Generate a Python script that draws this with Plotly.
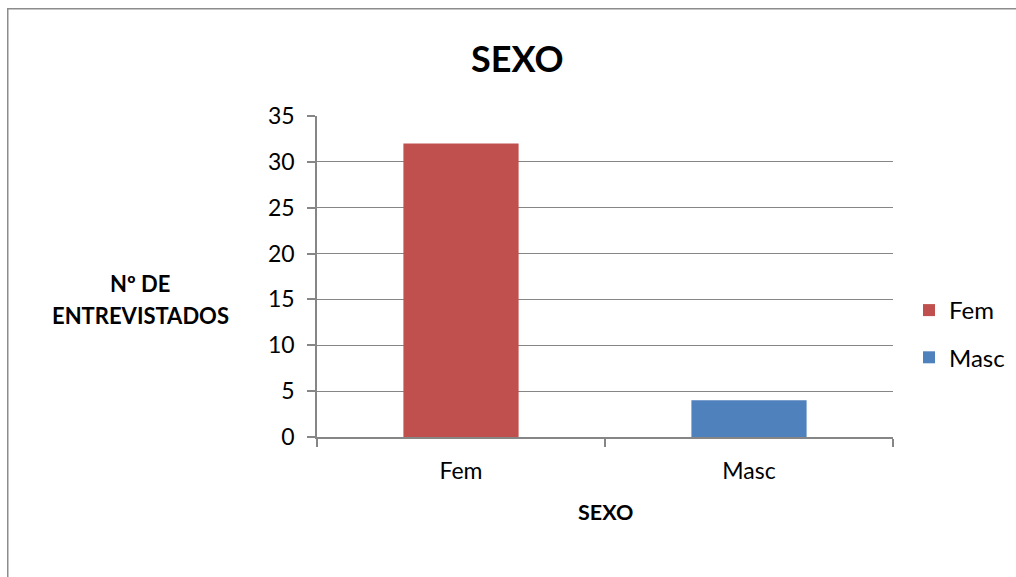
import plotly.graph_objects as go

# Survey respondents by sex
categories = ["Fem", "Masc"]
counts = [32, 4]
colors = ["#C0504D", "#4F81BD"]

title_text = "SEXO"
x_title = "SEXO"
y_title_lines = ["Nº DE", "ENTREVISTADOS"]
y_ticks = [0, 5, 10, 15, 20, 25, 30, 35]

W, H = 1016, 577
ML, MR, MT, MB = 317, 123, 116, 140
PW, PH = W - ML - MR, H - MT - MB

axis_gray = "#868686"
font_family = "Lato, Carlito, 'Liberation Sans', sans-serif"

fig = go.Figure()
for i, (cat, val, col) in enumerate(zip(categories, counts, colors)):
    fig.add_trace(go.Bar(
        x=[cat], y=[val], name=cat,
        marker=dict(color=col, line=dict(width=0)),
        width=0.4, legendgroup=f"g{i}",
    ))

# pixel -> paper helpers
def px_x(p):
    return (p - ML) / PW

def px_y(p):
    return (H - MB - p) / PH

# outer chart frame: a bordered box whose right and bottom edges run off the page
fig.add_annotation(text=" ", xref="paper", yref="paper",
                   x=px_x(7), y=px_y(8), xanchor="left", yanchor="top",
                   width=1100, height=700, showarrow=False,
                   bordercolor="#8C8C8C", borderwidth=1.5, borderpad=0,
                   bgcolor="rgba(0,0,0,0)")

fig.add_annotation(text=f"<b>{title_text}</b>", xref="paper", yref="paper",
                   x=px_x(517), y=px_y(58), showarrow=False,
                   font=dict(size=36, color="black", family=font_family),
                   xanchor="center", yanchor="middle")

for line_text, ypix in zip(y_title_lines, [283, 315]):
    fig.add_annotation(text=f"<b>{line_text}</b>", xref="paper", yref="paper",
                       x=px_x(140), y=px_y(ypix), showarrow=False,
                       font=dict(size=22, color="black", family=font_family),
                       xanchor="center", yanchor="middle")

fig.add_annotation(text=f"<b>{x_title}</b>", xref="paper", yref="paper",
                   x=px_x(605), y=px_y(512), showarrow=False,
                   font=dict(size=21.5, color="black", family=font_family),
                   xanchor="center", yanchor="middle")

fig.update_layout(
    width=W, height=H,
    margin=dict(l=ML, r=MR, t=MT, b=MB, pad=0, autoexpand=False),
    paper_bgcolor="white", plot_bgcolor="white",
    barmode="overlay",
    font=dict(family=font_family, size=23, color="black"),
    showlegend=True,
    legend=dict(
        x=px_x(909), y=px_y(288), xanchor="left", yanchor="top",
        font=dict(size=24, family=font_family, color="black"),
        traceorder="grouped", tracegroupgap=13,
        bgcolor="rgba(0,0,0,0)", itemclick=False,
    ),
    xaxis=dict(
        type="category", showline=True, linecolor=axis_gray, linewidth=1.5,
        ticks="outside", tickson="boundaries", ticklen=8, tickcolor=axis_gray,
        tickwidth=1.5, showgrid=False, tickfont=dict(size=23),
        ticklabelstandoff=13, range=[-0.5, 1.5],
    ),
    yaxis=dict(
        range=[0, 35], tickvals=y_ticks, showline=True, linecolor=axis_gray,
        linewidth=1.5, ticks="outside", ticklen=8, tickcolor=axis_gray,
        tickwidth=1.5, showgrid=True, gridcolor=axis_gray, gridwidth=1,
        zeroline=False, tickfont=dict(size=23), ticklabelstandoff=8,
    ),
)

fig.write_html("out.html", config={"displayModeBar": False})
